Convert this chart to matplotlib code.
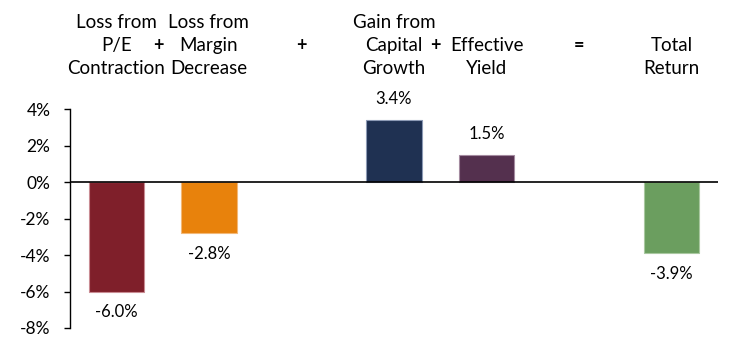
import matplotlib
matplotlib.use("Agg")
import matplotlib.pyplot as plt

plt.rcParams['font.family'] = ['Lato', 'DejaVu Sans']

categories = ["Loss from\nP/E\nContraction", "Loss from\nMargin\nDecrease",
              "Gain from\nCapital\nGrowth", "Effective\nYield", "Total\nReturn"]
values = [-6.0, -2.8, 3.4, 1.5, -3.9]
slots = [0, 1, 3, 4, 6]
colors = ["#7F1F2A", "#E8820C", "#1F3152", "#54304E", "#6B9E5F"]
edge_colors = ["#C98C93", "#F2B878", "#8C9AB5", "#A48BA0", "#A9C8A0"]
operators = ["+", "+", "+", "="]
operator_slots = [0.45, 2, 3.45, 5]
yticks = [4, 2, 0, -2, -4, -6, -8]
ytick_labels = ["4%", "2%", "0%", "-2%", "-4%", "-6%", "-8%"]

W, H = 753, 350
AX_TOP, AX_BOTTOM = 109, 328
fig = plt.figure(figsize=(W / 100, H / 100), dpi=100)
ax = fig.add_axes([70 / W, 1 - AX_BOTTOM / H, (718 - 70) / W, (AX_BOTTOM - AX_TOP) / H])

ax.bar(slots, values, width=0.6, color=colors, edgecolor=edge_colors, linewidth=0.8, zorder=2)
ax.axhline(0, color="black", linewidth=1.2, zorder=3)

ax.set_xlim(-0.5, 6.5)
ax.set_ylim(-8, 4)
ax.set_yticks(yticks)
ax.set_yticklabels(ytick_labels, fontsize=12.5)
ax.set_xticks([])
for s in ["top", "right", "bottom"]:
    ax.spines[s].set_visible(False)
ax.spines["left"].set_linewidth(1.0)
ax.tick_params(axis="y", direction="out", length=4, width=1.0, pad=10)

for x, v in zip(slots, values):
    off = 15 if v >= 0 else -15
    ax.annotate(f"{v:.1f}%", xy=(x, v), xytext=(0, off), textcoords="offset points",
                ha="center", va="center", fontsize=12, color="black")

# Header labels: one text per line, bottom lines aligned
trans = ax.get_xaxis_transform()
line_y_px = [68, 45, 22]  # bottom line upward, pixels from top of figure


def ax_y(py):
    return (AX_BOTTOM - py) / (AX_BOTTOM - AX_TOP)


for x, lab in zip(slots, categories):
    lines = lab.split("\n")[::-1]
    for i, line in enumerate(lines):
        ax.text(x, ax_y(line_y_px[i]), line, transform=trans,
                ha="center", va="center", fontsize=13.5, clip_on=False)
for x, op in zip(operator_slots, operators):
    ax.text(x, ax_y(45), op, transform=trans, ha="center", va="center",
            fontsize=13, fontweight="bold", clip_on=False)

fig.savefig("out.png", dpi=100)
